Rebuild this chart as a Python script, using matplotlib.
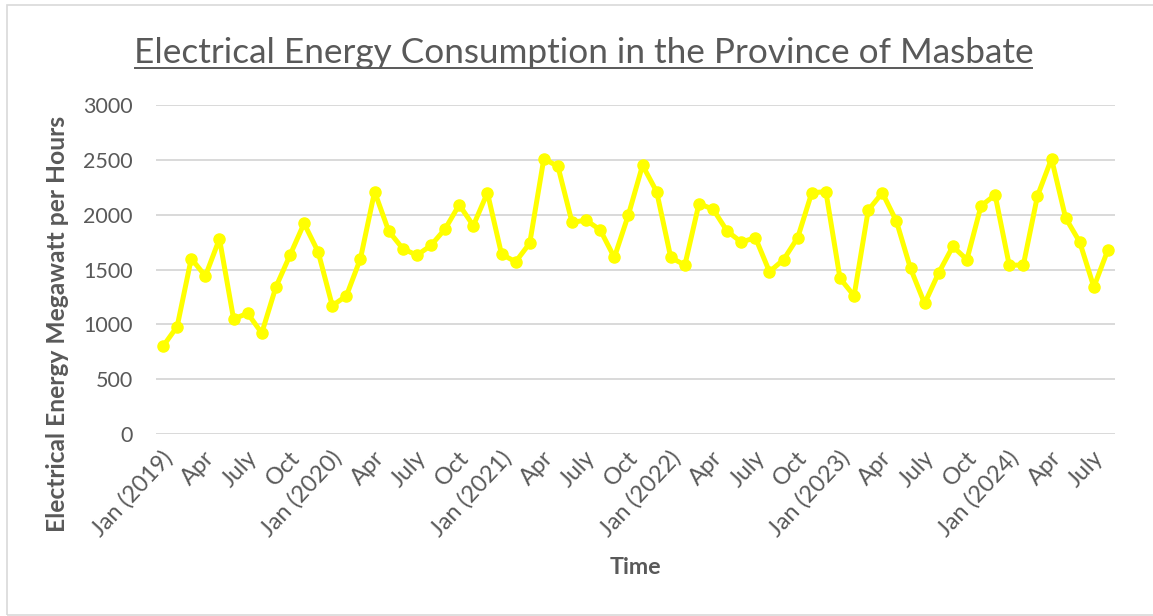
import matplotlib
matplotlib.use("Agg")
import matplotlib.pyplot as plt
import matplotlib.transforms as mtransforms
from matplotlib.patches import Rectangle
from matplotlib.lines import Line2D

plt.rcParams["font.family"] = ["Lato", "DejaVu Sans"]

# Monthly consumption, Jan 2019 .. Aug 2024 (MWh)
consumption = [
    800, 980, 1600, 1440, 1780, 1050, 1100, 920, 1340, 1630, 1920, 1660,
    1170, 1260, 1600, 2210, 1850, 1690, 1630, 1720, 1870, 2090, 1900, 2200,
    1640, 1570, 1740, 2510, 2440, 1930, 1950, 1860, 1610, 2000, 2450, 2210,
    1610, 1540, 2100, 2050, 1850, 1750, 1790, 1480, 1590, 1790, 2200, 2210,
    1420, 1260, 2040, 2200, 1940, 1510, 1190, 1470, 1710, 1590, 2080, 2180,
    1540, 1540, 2170, 2510, 1970, 1750, 1340, 1680,
]
tick_step = 3
tick_labels = [
    "Jan (2019)", "Apr", "July", "Oct",
    "Jan (2020)", "Apr", "July", "Oct",
    "Jan (2021)", "Apr", "July", "Oct",
    "Jan (2022)", "Apr", "July", "Oct",
    "Jan (2023)", "Apr", "July", "Oct",
    "Jan (2024)", "Apr", "July",
]
y_ticks = [0, 500, 1000, 1500, 2000, 2500, 3000]

title = "Electrical Energy Consumption in the Province of Masbate"
x_title = "Time"
y_title = "Electrical Energy Megawatt per Hours"

W, H, DPI = 1153, 616, 100
GREY = "#595959"
GRID = "#D9D9D9"
LINE = "#FFFF00"

fig = plt.figure(figsize=(W / DPI, H / DPI), dpi=DPI)
fig.patch.set_facecolor("white")

# chart frame
fig.add_artist(Rectangle((7 / W, 1 - 615 / H), 1.2, (615 - 5) / H,
                         transform=fig.transFigure, fill=False,
                         edgecolor=GRID, lw=1.2))

ax = fig.add_axes([156 / W, 1 - 434 / H, (1115 - 156) / W, (434 - 105) / H])
xs = list(range(len(consumption)))
ax.plot(xs, consumption, color=LINE, lw=3.6, marker="o", ms=8,
        solid_joinstyle="round", solid_capstyle="round", zorder=3)
ax.set_xlim(-0.5, len(consumption) - 0.5)
ax.set_ylim(y_ticks[0], y_ticks[-1])
ax.set_yticks(y_ticks)
ax.set_xticks(xs[::tick_step])
ax.set_xticklabels(tick_labels)
ax.grid(axis="y", color=GRID, lw=1.4)
ax.grid(axis="x", visible=False)
ax.set_axisbelow(True)
for s in ax.spines.values():
    s.set_visible(False)

canvas = fig.canvas
renderer = canvas.get_renderer()


def fit_size(text, size, target_px, weight="normal"):
    t = fig.text(0, 0, text, fontsize=size, fontweight=weight)
    w = t.get_window_extent(renderer).width
    t.remove()
    return size * target_px / w


ytick_size = fit_size("3000", 15, 50)
xtick_size = fit_size("Jan (2019)", 15, 108)
ax.tick_params(axis="both", length=0, colors=GREY)
ax.tick_params(axis="y", labelsize=ytick_size, pad=(156 - 133) * 72 / DPI)
ax.tick_params(axis="x", labelsize=xtick_size, pad=20 * 72 / DPI)
shift = mtransforms.ScaledTranslation(6 / DPI, 0, fig.dpi_scale_trans)
for lab in ax.get_xticklabels():
    lab.set_rotation(47)
    lab.set_ha("right")
    lab.set_va("center")
    lab.set_rotation_mode("anchor")
    lab.set_transform(lab.get_transform() + shift)

# title with underline
tsize = fit_size(title, 24, 897)
fig.text(583.5 / W, 1 - 63 / H, title, fontsize=tsize, color=GREY,
         ha="center", va="baseline")
fig.add_artist(Line2D([135 / W, 1032 / W], [1 - 68 / H, 1 - 68 / H],
                      transform=fig.transFigure, color=GREY, lw=1.4))

ysize = fit_size(y_title, 16, 417, "bold")
fig.text(58 / W, 1 - 323.5 / H, y_title, fontsize=ysize, fontweight="bold",
         color=GREY, rotation=90, ha="center", va="center")

xsize = fit_size(x_title, 16, 52, "bold")
fig.text(635 / W, 1 - 568 / H, x_title, fontsize=xsize, fontweight="bold",
         color=GREY, ha="center", va="center")

fig.savefig("out.png", dpi=DPI, facecolor="white")
